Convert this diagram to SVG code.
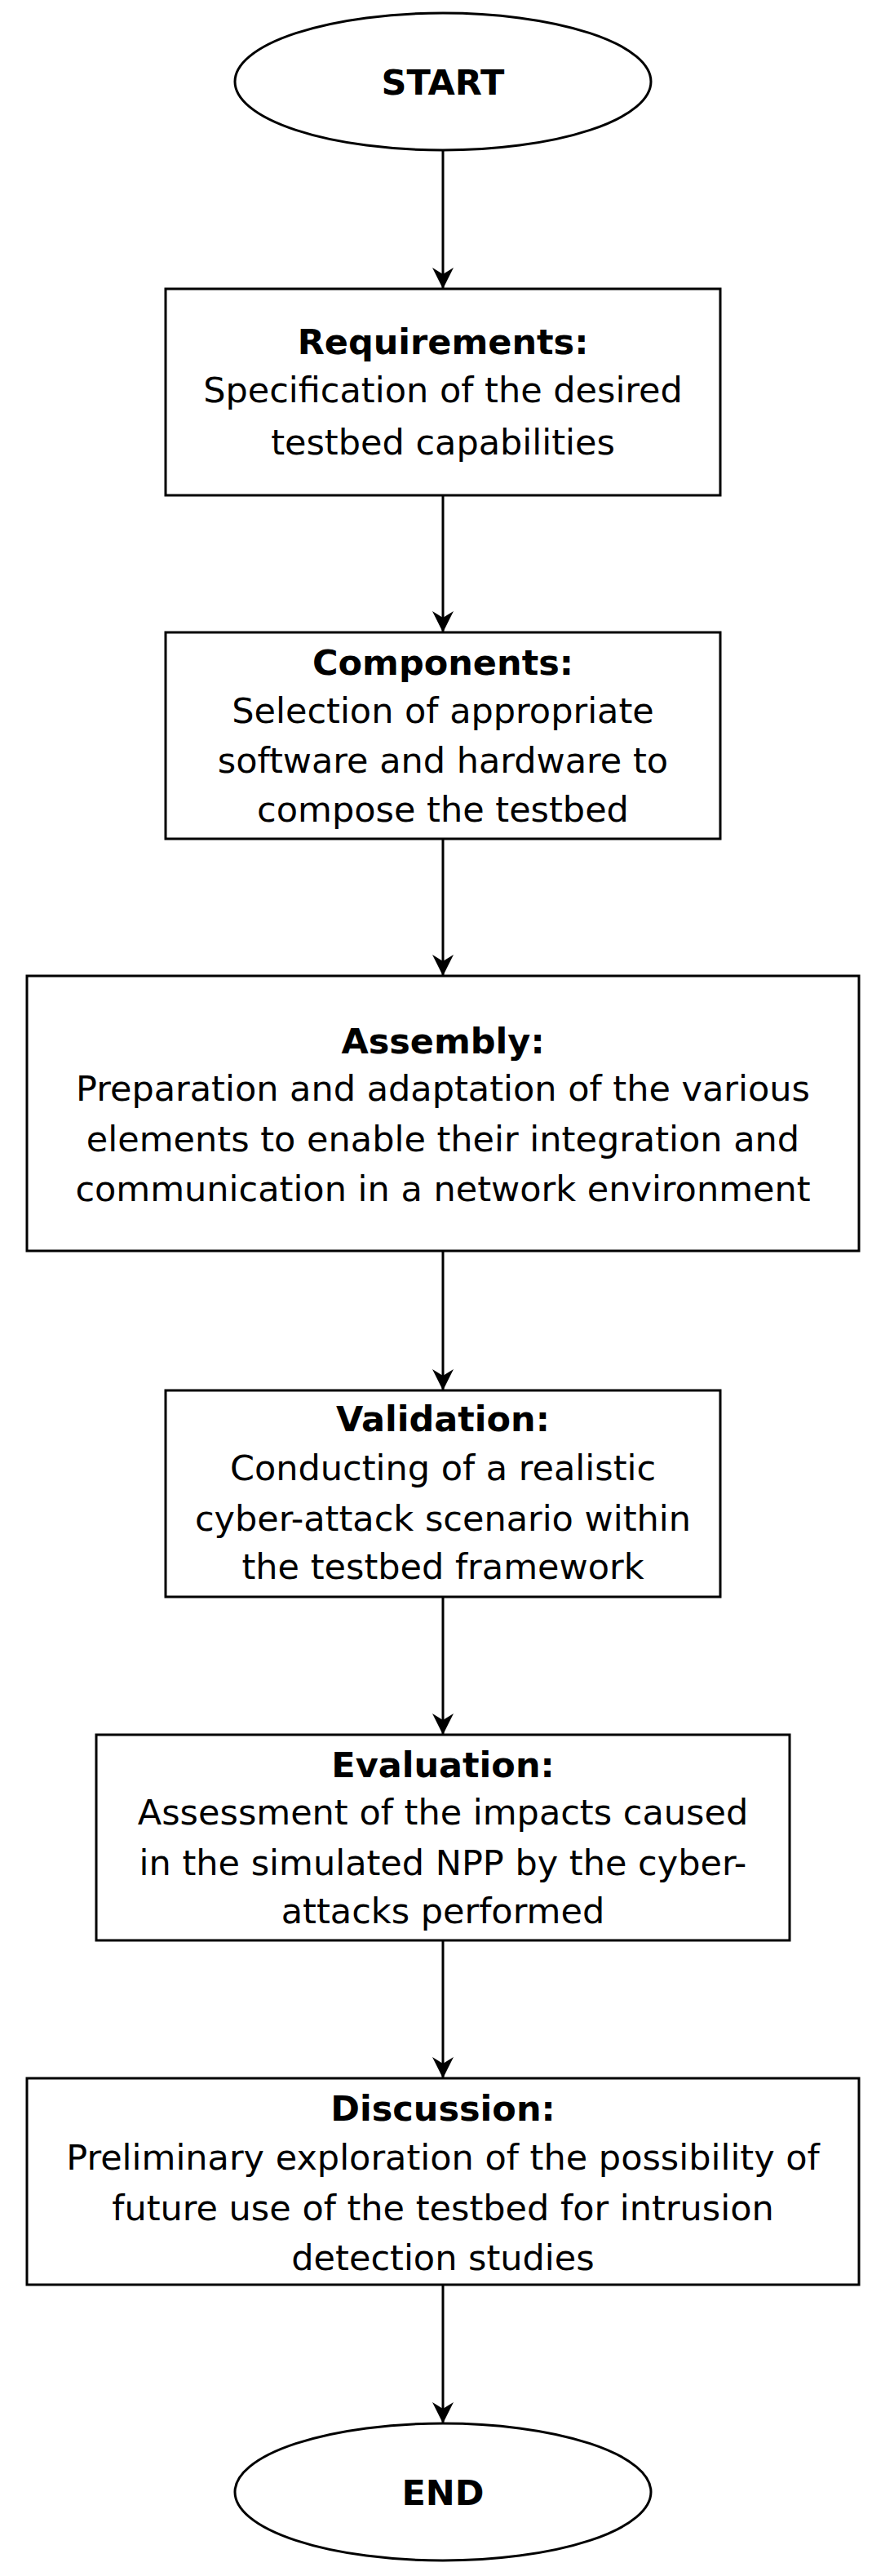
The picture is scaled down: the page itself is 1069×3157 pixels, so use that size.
<svg xmlns="http://www.w3.org/2000/svg" width="1069" height="3157" viewBox="0 0 1069 3157">
<style>
.s{fill:#fff;stroke:#000;stroke-width:3}
text{font-family:"DejaVu Sans",Verdana,sans-serif;font-size:43px;text-anchor:middle;fill:#000}
.b{font-weight:bold}
.c line{stroke:#000;stroke-width:3}
</style>
<defs><marker id="a" markerWidth="26" markerHeight="26" refX="26" refY="13" orient="auto" markerUnits="userSpaceOnUse" viewBox="0 0 26 26"><path d="M0,0 L26,13 L0,26 L8,13 Z" fill="#000"/></marker></defs>
<rect width="1069" height="3157" fill="#fff"/>
<g class="c">
<line x1="543" y1="184" x2="543" y2="354" marker-end="url(#a)"/>
<line x1="543" y1="607" x2="543" y2="775" marker-end="url(#a)"/>
<line x1="543" y1="1028" x2="543" y2="1196" marker-end="url(#a)"/>
<line x1="543" y1="1533" x2="543" y2="1704" marker-end="url(#a)"/>
<line x1="543" y1="1957" x2="543" y2="2126" marker-end="url(#a)"/>
<line x1="543" y1="2378" x2="543" y2="2547" marker-end="url(#a)"/>
<line x1="543" y1="2800" x2="543" y2="2970" marker-end="url(#a)"/>
</g>
<g id="start"><ellipse class="s" cx="543" cy="100" rx="255" ry="84"/><text class="b" x="543" y="116">START</text></g>
<g id="req"><rect class="s" x="203" y="354" width="680" height="253"/>
<text class="b" x="543" y="434">Requirements:</text><text x="543" y="493">Specification of the desired</text><text x="543" y="557">testbed capabilities</text></g>
<g id="comp"><rect class="s" x="203" y="775" width="680" height="253"/>
<text class="b" x="543" y="827">Components:</text><text x="543" y="886">Selection of appropriate</text><text x="543" y="947">software and hardware to</text><text x="543" y="1007">compose the testbed</text></g>
<g id="asm"><rect class="s" x="33" y="1196" width="1020" height="337"/>
<text class="b" x="543" y="1291">Assembly:</text><text x="543" y="1349">Preparation and adaptation of the various</text><text x="543" y="1411">elements to enable their integration and</text><text x="543" y="1472">communication in a network environment</text></g>
<g id="val"><rect class="s" x="203" y="1704" width="680" height="253"/>
<text class="b" x="543" y="1754">Validation:</text><text x="543" y="1814">Conducting of a realistic</text><text x="543" y="1876">cyber-attack scenario within</text><text x="543" y="1935">the testbed framework</text></g>
<g id="eval"><rect class="s" x="118" y="2126" width="850" height="252"/>
<text class="b" x="543" y="2178">Evaluation:</text><text x="543" y="2236">Assessment of the impacts caused</text><text x="543" y="2298">in the simulated NPP by the cyber-</text><text x="543" y="2357">attacks performed</text></g>
<g id="disc"><rect class="s" x="33" y="2547" width="1020" height="253"/>
<text class="b" x="543" y="2599">Discussion:</text><text x="543" y="2659">Preliminary exploration of the possibility of</text><text x="543" y="2721">future use of the testbed for intrusion</text><text x="543" y="2782">detection studies</text></g>
<g id="end"><ellipse class="s" cx="543" cy="3054" rx="255" ry="84"/><text class="b" x="543" y="3070">END</text></g>
</svg>
